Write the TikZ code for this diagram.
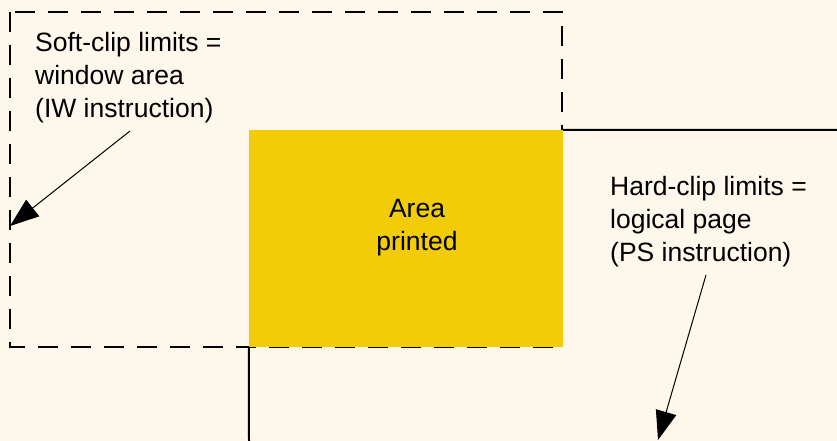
\documentclass[tikz,border=0pt]{standalone}
\usepackage{fontspec}
\setmainfont{Liberation Sans}
\usetikzlibrary{arrows.meta,positioning}
\definecolor{pcream}{HTML}{FEF7EB}
\definecolor{pgold}{HTML}{F2CC08}
\tikzset{
  lbl/.style={align=left,font=\fontsize{26.5}{33}\selectfont,inner sep=0pt,anchor=north west},
  softclip/.style={draw=black,line width=2pt,dash pattern=on 20pt off 13pt},
  hardclip/.style={draw=black,line width=2pt},
  printed/.style={fill=pgold,draw=none,minimum width=314pt,minimum height=217pt,inner sep=0pt},
  arr/.style={-{Triangle[length=29pt,width=21pt]},line width=1pt,draw=black},
}
\begin{document}
\begin{tikzpicture}[x=1pt,y=-1pt]
  \fill[pcream] (0,0) rectangle (837,441);
  \useasboundingbox (0,0) rectangle (837,441);
  % clip limits, then the printed area on top
  \draw[softclip] (10,12) rectangle (562,347);
  \node[printed] (area) at (406,238.5) {};
  \draw[hardclip] (area.north east) -- (837,130);
  \draw[hardclip] (area.south west) -- (249,441);
  \node[align=center,font=\fontsize{26.5}{33}\selectfont,inner sep=0pt] (areatxt) at (417,228) {Area\\printed};
  % labels
  \node[lbl] (soft) at (35,32) {Soft-clip limits =\\window area\\(IW instruction)};
  \node[lbl] (hard) at (610,176) {Hard-clip limits =\\logical page\\(PS instruction)};
  \coordinate (softfrom) at (130,131);
  \coordinate (softto) at (10,226);
  \coordinate (hardfrom) at (706,275);
  \coordinate (hardto) at (658,440);
  \draw[arr] (softfrom) -- (softto);
  \draw[arr] (hardfrom) -- (hardto);
\end{tikzpicture}
\end{document}
